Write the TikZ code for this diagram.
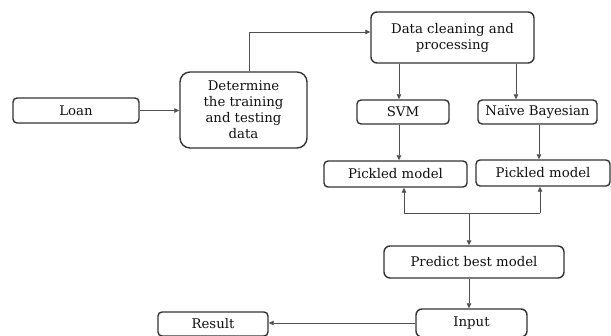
\documentclass[tikz,border=0pt]{standalone}
\usepackage{fontspec}
\setmainfont{DejaVu Serif}
\usetikzlibrary{arrows.meta,calc}
\definecolor{boxline}{HTML}{333333}
\definecolor{conline}{HTML}{505050}
\definecolor{txt}{HTML}{111111}
\begin{document}
\begin{tikzpicture}[x=1pt,y=-1pt,
  box/.style={draw=boxline,line width=1.4pt,rounded corners=4pt,inner sep=0pt,
    align=center,text=txt,font=\fontsize{13.3}{16}\selectfont},
  conn/.style={draw=conline,line width=0.8pt},
  arr/.style={conn,-{Triangle[length=5pt,width=4.5pt]}}]
\useasboundingbox (0,0) rectangle (611,336);
\node[box,minimum width=126pt,minimum height=25pt] (loan) at (76,110.5) {Loan};
\node[box,rounded corners=10pt,minimum width=127pt,minimum height=76pt] (det) at (243.5,110) {Determine\\the training\\and testing\\data};
\node[box,rounded corners=6pt,minimum width=163pt,minimum height=51pt] (data) at (452.5,37.5) {Data cleaning and\\processing};
\node[box,minimum width=92pt,minimum height=24pt] (svm) at (403,112) {SVM};
\node[box,minimum width=119pt,minimum height=24pt] (nb) at (537.5,112) {Naïve Bayesian};
\node[box,minimum width=143pt,minimum height=26pt] (pl) at (395.5,174) {Pickled model};
\node[box,minimum width=134pt,minimum height=26pt] (pr) at (543,173) {Pickled model};
\node[box,rounded corners=6pt,minimum width=180pt,minimum height=32pt] (pred) at (474,262) {Predict best model};
\node[box,rounded corners=6pt,minimum width=111pt,minimum height=28pt] (inp) at (471.5,323) {Input};
\node[box,minimum width=110pt,minimum height=24pt] (res) at (213,324) {Result};
\coordinate (c1) at (249,32);
\coordinate (xs) at (399,0);
\coordinate (xn) at (516,0);
\coordinate (xnb) at (539,0);
\coordinate (jl) at (404,213);
\coordinate (jr) at (540,213);
\coordinate (jm) at (469,213);
\draw[arr] (loan.east) -- (det.west |- loan.east);
\draw[arr] (c1 |- det.north) -- (c1) -- (c1 -| data.west);
\draw[arr] (xs |- data.south) -- (xs |- svm.north);
\draw[arr] (xn |- data.south) -- (xn |- nb.north);
\draw[arr] (xs |- svm.south) -- (xs |- pl.north);
\draw[arr] (xnb |- nb.south) -- (xnb |- pr.north);
\draw[conn] (jl) -- (jr);
\draw[arr] (jl) -- (jl |- pl.south);
\draw[arr] (jr) -- (jr |- pr.south);
\draw[arr] (jm) -- (jm |- pred.north);
\draw[arr] (jm |- pred.south) -- (jm |- inp.north);
\draw[arr] (inp.west) -- (res.east |- inp.west);
\end{tikzpicture}
\end{document}
